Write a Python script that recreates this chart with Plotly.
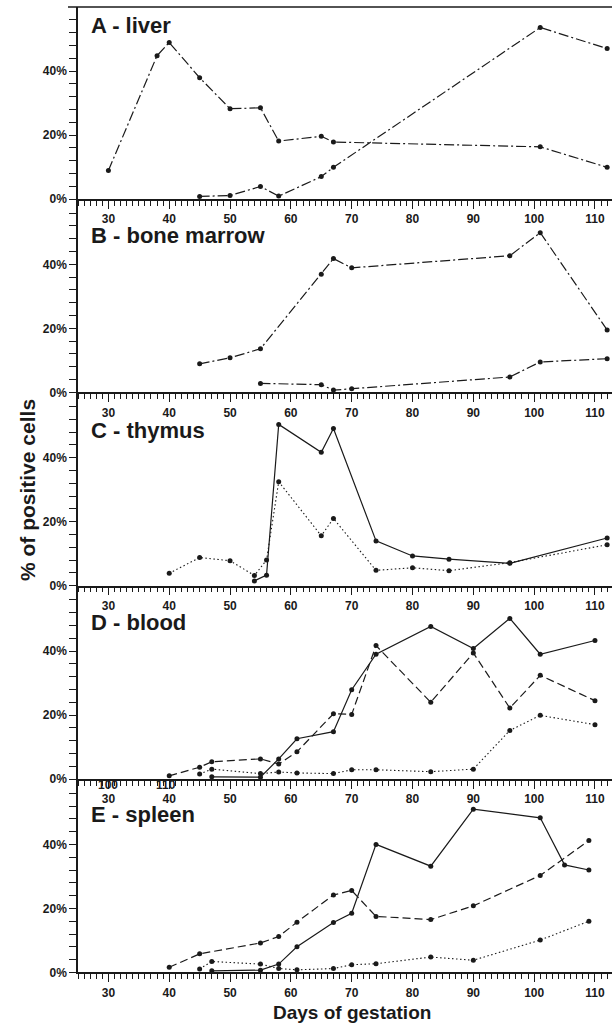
import plotly.graph_objects as go

# ---------------- data ----------------
liver_days_1 = [30, 38, 40, 45, 50, 55, 58, 65, 67, 101, 112]
liver_vals_1 = [8.9, 44.8, 48.9, 37.9, 28.2, 28.5, 18.1, 19.6, 17.8, 16.3, 9.9]
liver_days_2 = [45, 50, 55, 58, 65, 67, 101, 112]
liver_vals_2 = [0.8, 1.1, 3.9, 0.9, 7.0, 9.9, 53.6, 47.0]

bm_days_1 = [45, 50, 55, 65, 67, 70, 96, 101, 112]
bm_vals_1 = [8.9, 10.8, 13.6, 36.9, 41.8, 38.9, 42.7, 49.9, 19.5]
bm_days_2 = [55, 65, 67, 70, 96, 101, 112]
bm_vals_2 = [2.8, 2.4, 0.7, 1.1, 4.8, 9.5, 10.5]

thy_days_solid = [54, 56, 58, 65, 67, 74, 80, 86, 96, 112]
thy_vals_solid = [1.5, 3.3, 50.4, 41.7, 49.1, 14.0, 9.3, 8.3, 7.0, 14.9]
thy_days_dot = [40, 45, 50, 54, 56, 58, 65, 67, 74, 80, 86, 96, 112]
thy_vals_dot = [3.9, 8.8, 7.8, 3.2, 8.0, 32.5, 15.6, 21.0, 4.8, 5.6, 4.7, 7.2, 12.8]

blood_days_solid = [47, 55, 58, 61, 67, 70, 74, 83, 90, 96, 101, 110]
blood_vals_solid = [0.7, 0.6, 6.3, 12.6, 14.8, 27.9, 39.0, 47.7, 40.8, 50.2, 39.0, 43.3]
blood_days_dash = [40, 45, 47, 55, 58, 61, 67, 70, 74, 83, 90, 96, 101, 110]
blood_vals_dash = [1.0, 3.7, 5.4, 6.3, 4.7, 8.5, 20.4, 20.2, 41.7, 24.0, 39.4, 22.2, 32.4, 24.5]
blood_days_dot = [45, 47, 55, 58, 61, 67, 70, 74, 83, 90, 96, 101, 110]
blood_vals_dot = [1.6, 3.1, 1.7, 2.2, 1.9, 1.7, 2.9, 2.9, 2.3, 3.1, 15.2, 19.9, 17.0]

spleen_days_solid = [47, 55, 58, 61, 67, 70, 74, 83, 90, 101, 105, 109]
spleen_vals_solid = [0.5, 0.7, 2.6, 8.0, 15.6, 18.5, 40.0, 33.2, 51.0, 48.3, 33.6, 32.0]
spleen_days_dash = [40, 45, 55, 58, 61, 67, 70, 74, 83, 90, 101, 109]
spleen_vals_dash = [1.6, 5.8, 9.2, 11.2, 15.7, 24.2, 25.6, 17.5, 16.5, 20.8, 30.3, 41.2]
spleen_days_dot = [45, 47, 55, 58, 61, 67, 70, 74, 83, 90, 101, 109]
spleen_vals_dot = [1.1, 3.4, 2.6, 1.2, 0.8, 1.2, 2.4, 2.7, 4.8, 3.8, 10.1, 16.0]

panel_titles = ["A - liver", "B - bone marrow", "C - thymus", "D - blood", "E - spleen"]
x_tick_vals = [30, 40, 50, 60, 70, 80, 90, 100, 110]
y_tick_vals = [0, 20, 40]
y_tick_text = ["0%", "20%", "40%"]

# ---------------- layout geometry ----------------
W, H = 612, 1025
ML, MR, MT, MB = 78, 0, 7, 52
PW = W - ML - MR
PH = H - MT - MB
PANEL_STEP = 193.35
PANEL_H = 192.0
FONT = "Liberation Sans"
INK = "#1a1a1a"


def py2paper(py):
    return 1 - (py - MT) / PH


def px2paper(px):
    return (px - ML) / PW


styles = {
    "dashdot": "10px,3px,2px,3px",
    "dash": "8px,4px",
    "dot": "1.5px,2.5px",
    "solid": "solid",
}

panels = [
    [(liver_days_1, liver_vals_1, "dashdot"), (liver_days_2, liver_vals_2, "dashdot")],
    [(bm_days_1, bm_vals_1, "dashdot"), (bm_days_2, bm_vals_2, "dashdot")],
    [(thy_days_dot, thy_vals_dot, "dot"), (thy_days_solid, thy_vals_solid, "solid")],
    [(blood_days_dot, blood_vals_dot, "dot"), (blood_days_dash, blood_vals_dash, "dash"),
     (blood_days_solid, blood_vals_solid, "solid")],
    [(spleen_days_dot, spleen_vals_dot, "dot"), (spleen_days_dash, spleen_vals_dash, "dash"),
     (spleen_days_solid, spleen_vals_solid, "solid")],
]

fig = go.Figure()
layout = {}
for i, series in enumerate(panels):
    n = "" if i == 0 else str(i + 1)
    for days, vals, st in series:
        fig.add_trace(go.Scatter(
            x=days, y=vals, mode="lines+markers",
            xaxis="x" + n, yaxis="y" + n,
            line=dict(color=INK, width=1.2 if st != "dot" else 1.1, dash=styles[st]),
            marker=dict(color=INK, size=5),
            showlegend=False, cliponaxis=False,
        ))
    top_px = MT + PANEL_STEP * i
    bot_px = top_px + PANEL_H
    layout["xaxis" + n] = dict(
        domain=[0, 1], anchor="y" + n, range=[25, 112.8],
        showline=True, linewidth=1.5, linecolor=INK,
        showgrid=False, zeroline=False,
        ticks="outside", ticklen=8, tickwidth=1.2, tickcolor=INK,
        tickvals=x_tick_vals,
        tickfont=dict(family=FONT, size=12, color=INK, weight="bold"),
        minor=dict(dtick=1, tick0=0, ticks="outside", ticklen=5, tickwidth=1, tickcolor=INK),
    )
    layout["yaxis" + n] = dict(
        domain=[py2paper(bot_px), py2paper(top_px)], anchor="x" + n, range=[0, 60],
        showline=True, linewidth=1.5, linecolor=INK,
        showgrid=False, zeroline=False,
        ticks="outside", ticklen=7, tickwidth=1.2, tickcolor=INK,
        tickvals=y_tick_vals, ticktext=y_tick_text,
        tickfont=dict(family=FONT, size=12, color=INK, weight="bold"),
        minor=dict(tickvals=[v for v in range(4, 60, 4)], ticks="outside", ticklen=7,
                   tickwidth=1, tickcolor=INK),
    )

title_centers = [25, 235, 430, 622, 814.5]
annotations = []
for t, cy in zip(panel_titles, title_centers):
    annotations.append(dict(
        text=t, xref="paper", yref="paper", x=px2paper(89), y=py2paper(cy),
        xanchor="left", yanchor="middle", showarrow=False,
        font=dict(family=FONT, size=22, color=INK, weight="bold"),
    ))

# stray labels present in the original figure under panel D's axis
for txt, cx in [("100", 108), ("110", 166)]:
    annotations.append(dict(
        text=txt, xref="paper", yref="paper", x=px2paper(cx), y=py2paper(785),
        xanchor="center", yanchor="middle", showarrow=False,
        font=dict(family=FONT, size=12, color=INK, weight="bold"),
    ))

annotations.append(dict(
    text="% of positive cells", xref="paper", yref="paper",
    x=px2paper(27), y=py2paper(490), textangle=-90,
    xanchor="center", yanchor="middle", showarrow=False,
    font=dict(family=FONT, size=21, color=INK, weight="bold"),
))
annotations.append(dict(
    text="Days of gestation", xref="paper", yref="paper",
    x=px2paper(352), y=py2paper(1012),
    xanchor="center", yanchor="middle", showarrow=False,
    font=dict(family=FONT, size=19, color=INK, weight="bold"),
))

shapes = [dict(type="line", xref="paper", yref="paper",
               x0=px2paper(68), x1=1.0, y0=1.0, y1=1.0,
               line=dict(color=INK, width=1.5))]

fig.update_layout(
    width=W, height=H,
    margin=dict(l=ML, r=MR, t=MT, b=MB),
    paper_bgcolor="white", plot_bgcolor="white",
    annotations=annotations, shapes=shapes,
    **layout,
)

fig.write_html(
    "out.html",
    config={"displayModeBar": False},
    post_script="document.body.style.margin='0';document.body.style.padding='0';"
                "document.body.style.overflow='hidden';",
)
